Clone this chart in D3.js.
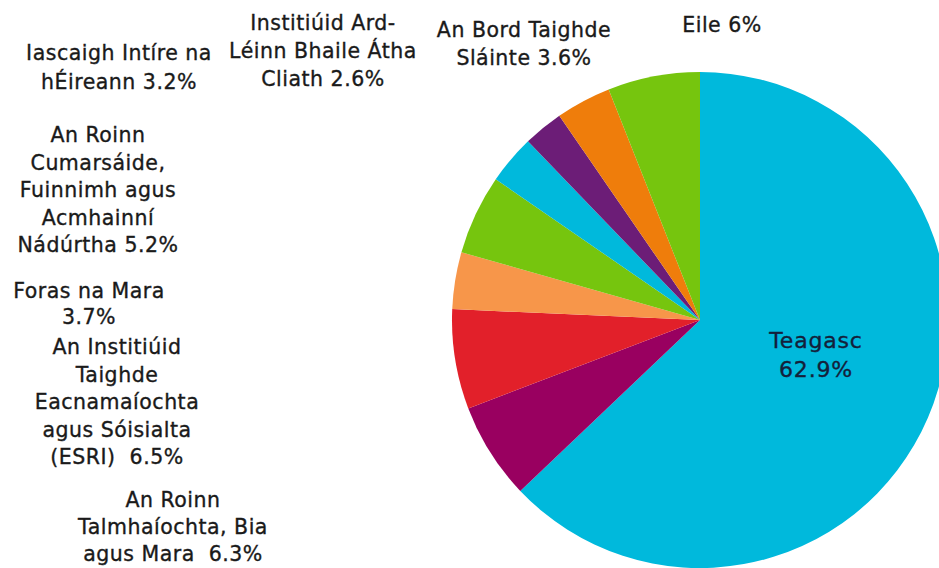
<!DOCTYPE html>
<html>
<head>
<meta charset="utf-8">
<script src="https://cdn.jsdelivr.net/npm/d3@7"></script>
<style>
  html, body { margin: 0; padding: 0; background: #ffffff; }
  svg { display: block; }
  text { font-family: "DejaVu Sans", sans-serif; }
</style>
</head>
<body>
<svg id="chart" width="939" height="568"></svg>
<script>
// ---- data ----
const categories = [
  "Teagasc",
  "An Roinn Talmhaíochta, Bia agus Mara",
  "An Institiúid Taighde Eacnamaíochta agus Sóisialta (ESRI)",
  "Foras na Mara",
  "An Roinn Cumarsáide, Fuinnimh agus Acmhainní Nádúrtha",
  "Iascaigh Intíre na hÉireann",
  "Institiúid Ard-Léinn Bhaile Átha Cliath",
  "An Bord Taighde Sláinte",
  "Eile"
];
const shares = [62.9, 6.3, 6.5, 3.7, 5.2, 3.2, 2.6, 3.6, 6];
const labelLines = [
  ["Teagasc", "62.9%"],
  ["An Roinn", "Talmhaíochta, Bia", "agus Mara  6.3%"],
  ["An Institiúid", "Taighde", "Eacnamaíochta", "agus Sóisialta", "(ESRI)  6.5%"],
  ["Foras na Mara", "3.7%"],
  ["An Roinn", "Cumarsáide,", "Fuinnimh agus", "Acmhainní", "Nádúrtha 5.2%"],
  ["Iascaigh Intíre na", "hÉireann 3.2%"],
  ["Institiúid Ard-", "Léinn Bhaile Átha", "Cliath 2.6%"],
  ["An Bord Taighde", "Sláinte 3.6%"],
  ["Eile 6%"]
];
const sliceColors = ["#00b9dc", "#990060", "#e2202a", "#f7964a", "#76c50e", "#00b9dc", "#6c1d77", "#ef7d0b", "#76c50e"];

// ---- layout (label center x, first baseline y, line step, font size) ----
const labelPos = [
  [816, 348, 29, 22],
  [173, 507, 27, 20.5],
  [117, 354, 27.6, 20.5],
  [89, 298, 25.5, 20.5],
  [98, 142, 27.6, 20.5],
  [119, 60, 28.5, 20.5],
  [323, 30, 28, 20.5],
  [524, 37, 27.5, 20.5],
  [722, 32, 27.5, 20.5]
];

const svg = d3.select("#chart");
const cx = 700, cy = 320, R = 248;

const pie = d3.pie().sort(null).value(d => d)(shares);
const arc = d3.arc().innerRadius(0).outerRadius(R);

const g = svg.append("g").attr("transform", `translate(${cx},${cy})`);
g.selectAll("path")
  .data(pie)
  .join("path")
  .attr("d", arc)
  .attr("fill", (d, i) => sliceColors[i]);

const labels = svg.append("g");
labelLines.forEach((lines, i) => {
  const [x, y, step, fs] = labelPos[i];
  const col = i === 0 ? "#14203a" : "#1a1a1a";
  const t = labels.append("text")
    .attr("text-anchor", "middle")
    .attr("font-size", fs)
    .attr("letter-spacing", i === 0 ? 0.8 : 0.5)
    .attr("fill", col)
    .attr("stroke", col)
    .attr("stroke-width", 0.35);
  lines.forEach((ln, j) => {
    t.append("tspan")
      .attr("x", x)
      .attr("y", y + j * step)
      .attr("xml:space", "preserve")
      .text(ln);
  });
});
</script>
</body>
</html>
